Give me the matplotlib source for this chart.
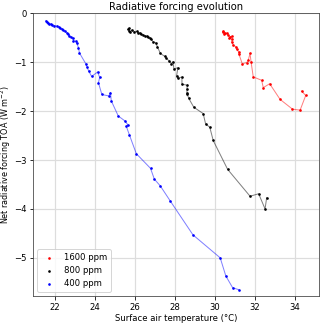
import matplotlib
matplotlib.use("Agg")
import matplotlib.pyplot as plt

# 400 ppm (blue)
t400 = [21.56, 21.62, 21.66, 21.72, 21.80, 21.86, 21.97, 22.09, 22.19, 22.25, 22.34, 22.43,
        22.51, 22.61, 22.68, 22.73, 22.79, 22.89, 22.93, 23.04, 23.09, 23.18, 23.23, 23.56,
        23.61, 23.69, 23.84, 24.14, 24.24, 24.18, 24.35, 24.70, 24.78, 24.82, 25.17, 25.50,
        25.65, 25.57, 25.72, 26.07, 26.78, 26.97, 27.27, 27.77, 28.90, 30.26, 30.54, 30.88, 31.18]
n400 = [-0.15, -0.18, -0.20, -0.22, -0.22, -0.23, -0.25, -0.26, -0.27, -0.30, -0.32, -0.34,
        -0.37, -0.40, -0.42, -0.47, -0.48, -0.51, -0.56, -0.57, -0.60, -0.70, -0.81, -1.04,
        -1.10, -1.18, -1.29, -1.20, -1.31, -1.42, -1.66, -1.69, -1.62, -1.79, -2.10, -2.20,
        -2.28, -2.31, -2.48, -2.87, -3.17, -3.39, -3.53, -3.84, -4.53, -5.00, -5.37, -5.61, -5.65]

# 800 ppm (black)
t800 = [25.65, 25.70, 25.72, 25.78, 25.85, 25.98, 26.08, 26.15, 26.25, 26.32, 26.40, 26.48,
        26.58, 26.65, 26.75, 26.82, 26.90, 27.03, 27.12, 27.27, 27.49, 27.57, 27.70, 27.82,
        27.90, 27.95, 28.15, 28.08, 28.15, 28.35, 28.35, 28.62, 28.60, 28.60, 28.62, 28.69,
        28.94, 29.41, 29.53, 29.74, 29.91, 30.63, 31.75, 32.18, 32.50, 32.58]
n800 = [-0.33, -0.30, -0.36, -0.38, -0.34, -0.38, -0.37, -0.40, -0.40, -0.43, -0.44, -0.46,
        -0.47, -0.49, -0.51, -0.53, -0.58, -0.60, -0.68, -0.82, -0.88, -0.92, -0.97, -1.03,
        -0.99, -1.14, -1.11, -1.28, -1.33, -1.30, -1.45, -1.47, -1.55, -1.62, -1.66, -1.74,
        -1.92, -2.05, -2.26, -2.33, -2.60, -3.19, -3.74, -3.69, -4.00, -3.77]

# 1600 ppm (red)
t1600 = [30.38, 30.41, 30.49, 30.45, 30.58, 30.66, 30.74, 30.83, 30.69, 30.86, 30.83, 30.91,
         31.03, 31.08, 31.19, 31.19, 31.36, 31.58, 31.66, 31.75, 31.80, 31.91, 32.33, 32.41,
         32.73, 33.25, 33.87, 34.25, 34.53, 34.32]
n1600 = [-0.38, -0.36, -0.40, -0.42, -0.41, -0.45, -0.48, -0.47, -0.51, -0.53, -0.58, -0.65,
         -0.68, -0.74, -0.79, -0.83, -1.03, -1.01, -0.96, -0.82, -0.99, -1.30, -1.37, -1.52,
         -1.44, -1.76, -1.96, -1.98, -1.68, -1.59]

series = [(t1600, n1600, "red", "1600 ppm"),
          (t800, n800, "black", "800 ppm"),
          (t400, n400, "blue", "400 ppm")]

plt.rcParams['font.size'] = 8.5
plt.rcParams['xtick.labelsize'] = 8.5
plt.rcParams['ytick.labelsize'] = 8.5
plt.rcParams['ytick.major.pad'] = 2.5
fig = plt.figure(figsize=(320 / 72, 323 / 72), dpi=72)
ax = fig.add_axes([33 / 320, 27 / 323, (318.7 - 33) / 320, (296 - 13.3) / 323])
ax.grid(True, color="#dddddd", linewidth=1.2, zorder=0)
ax.set_axisbelow(True)
for t, n, c, lab in series:
    ax.plot(t, n, "-", color=c, alpha=0.5, linewidth=1.0, zorder=2)
    ax.scatter(t, n, s=7, color=c, label=lab, zorder=3, linewidths=0)

ax.set_ylim(-5.78, 0)
ax.set_xticks([22, 24, 26, 28, 30, 32, 34])
ax.set_yticks([0, -1, -2, -3, -4, -5])
ax.set_title("Radiative forcing evolution", fontsize=10, pad=3)
ax.set_xlabel("Surface air temperature (°C)", labelpad=2)
ax.set_ylabel("Net radiative forcing TOA (W m$^{-2}$)", fontsize=8, labelpad=1)
for s in ax.spines.values():
    s.set_color("#444444")
ax.legend(loc="lower left", scatterpoints=1)
fig.savefig("out.png", dpi=72)
